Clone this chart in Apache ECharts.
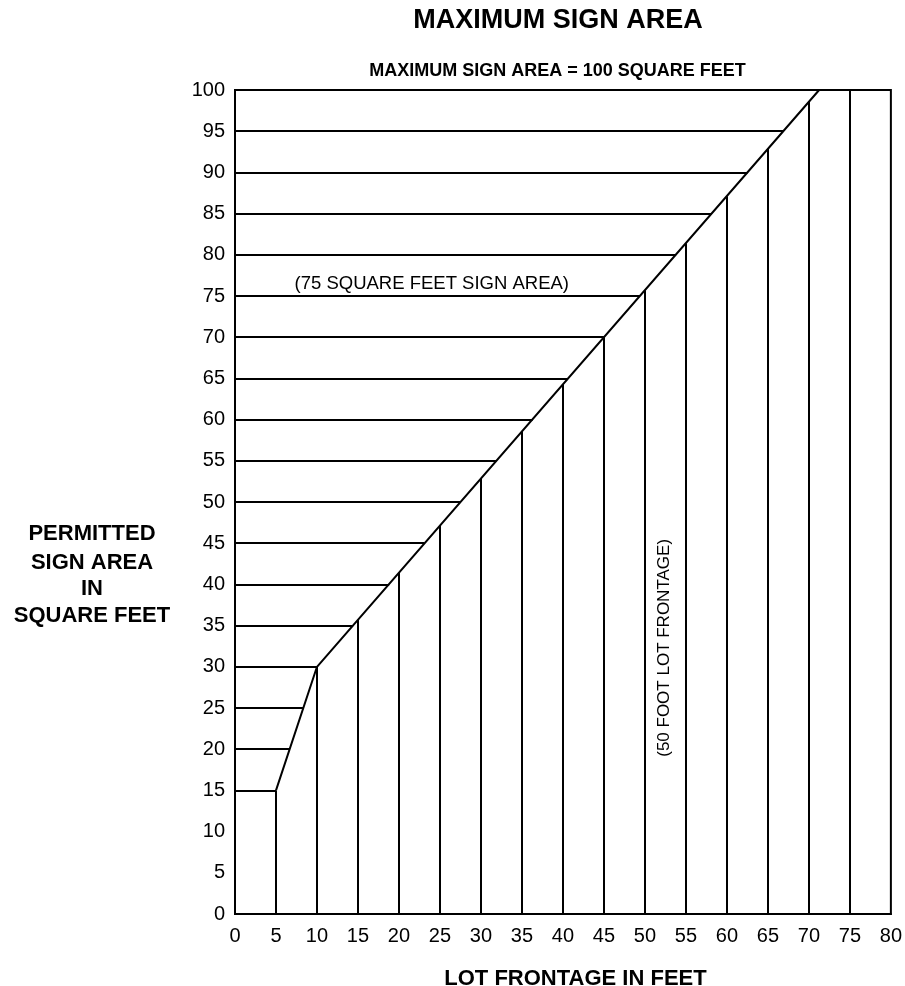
<!DOCTYPE html>
<html>
<head>
<meta charset="utf-8">
<script src="https://cdn.jsdelivr.net/npm/echarts@6/dist/echarts.min.js"></script>
<style>
html,body{margin:0;padding:0;background:#fff;}
#chart{width:905px;height:986px;}
</style>
</head>
<body>
<div id="chart"></div>
<script>
// Lot frontage (x) grid positions and the area where each vertical line meets the boundary
const frontage = [5, 10, 15, 20, 25, 30, 35, 40, 45, 50, 55, 60, 65, 70, 75];
const verticalTop = [15, 30, 35.7, 41.4, 47.1, 52.9, 58.6, 64.3, 70, 75.7, 81.4, 87.1, 92.9, 98.6, 100];
// Sign area (y) grid levels and the frontage where each horizontal line meets the boundary
const areaLevels = [15, 20, 25, 30, 35, 40, 45, 50, 55, 60, 65, 70, 75, 80, 85, 90, 95];
const horizontalEnd = [5, 6.7, 8.3, 10, 14.4, 18.8, 23.1, 27.5, 31.9, 36.3, 40.6, 45, 49.4, 53.8, 58.1, 62.5, 66.9];
// Boundary (permitted sign area) line
const boundaryX = [5, 10, 71.25];
const boundaryY = [15, 30, 100];
// Axis tick settings
const xTicks = { min: 0, max: 80, interval: 5 };
const yTicks = { min: 0, max: 100, interval: 5 };

const FONT = "'Liberation Sans', Arial, Helvetica, sans-serif";

const verticalLines = frontage.map((x, i) => ({ coords: [[x, 0], [x, verticalTop[i]]] }));
const horizontalLines = areaLevels.map((y, i) => ({ coords: [[0, y], [horizontalEnd[i], y]] }));
const boundary = boundaryX.map((x, i) => [x, boundaryY[i]]);

const chart = echarts.init(document.getElementById('chart'), null, { renderer: 'canvas' });
chart.setOption({
  backgroundColor: '#ffffff',
  animation: false,
  grid: { left: 235, right: 11, top: 90, bottom: 72, show: true, borderColor: '#000', borderWidth: 2, backgroundColor: 'transparent' },
  xAxis: {
    type: 'value', min: xTicks.min, max: xTicks.max, interval: xTicks.interval,
    axisLine: { show: true, lineStyle: { color: '#000', width: 2 } },
    axisTick: { show: false },
    splitLine: { show: false },
    axisLabel: { color: '#000', fontSize: 20, fontFamily: FONT, margin: 12 }
  },
  yAxis: {
    type: 'value', min: yTicks.min, max: yTicks.max, interval: yTicks.interval,
    axisLine: { show: true, lineStyle: { color: '#000', width: 2 } },
    axisTick: { show: false },
    splitLine: { show: false },
    axisLabel: { color: '#000', fontSize: 20, fontFamily: FONT, margin: 10 }
  },
  graphic: [
    { type: 'text', x: 558, y: 21, style: { text: 'MAXIMUM SIGN AREA', font: 'bold 27px ' + FONT, fill: '#000', align: 'center', verticalAlign: 'middle' } },
    { type: 'text', x: 557.5, y: 71, style: { text: 'MAXIMUM SIGN AREA = 100 SQUARE FEET', font: 'bold 18px ' + FONT, fill: '#000', align: 'center', verticalAlign: 'middle' } },
    { type: 'text', x: 92, y: 534, style: { text: 'PERMITTED', font: 'bold 22px ' + FONT, fill: '#000', align: 'center', verticalAlign: 'middle' } },
    { type: 'text', x: 92, y: 562.5, style: { text: 'SIGN AREA', font: 'bold 22px ' + FONT, fill: '#000', align: 'center', verticalAlign: 'middle' } },
    { type: 'text', x: 92, y: 589, style: { text: 'IN', font: 'bold 22px ' + FONT, fill: '#000', align: 'center', verticalAlign: 'middle' } },
    { type: 'text', x: 92, y: 615.5, style: { text: 'SQUARE FEET', font: 'bold 22px ' + FONT, fill: '#000', align: 'center', verticalAlign: 'middle' } },
    { type: 'text', x: 575.5, y: 979, style: { text: 'LOT FRONTAGE IN FEET', font: 'bold 22px ' + FONT, fill: '#000', align: 'center', verticalAlign: 'middle' } }
  ],
  series: [
    {
      type: 'lines', coordinateSystem: 'cartesian2d', polyline: false, silent: true,
      lineStyle: { color: '#000', width: 2, opacity: 1 },
      data: verticalLines
    },
    {
      type: 'lines', coordinateSystem: 'cartesian2d', polyline: false, silent: true,
      lineStyle: { color: '#000', width: 2, opacity: 1 },
      data: horizontalLines
    },
    {
      type: 'line', data: boundary, showSymbol: false, silent: true,
      lineStyle: { color: '#000', width: 2 }
    },
    {
      type: 'scatter', symbolSize: 0, silent: true,
      itemStyle: { opacity: 1, color: '#000' },
      data: [[24, 75]],
      label: { show: true, position: 'top', distance: 3, formatter: '(75 SQUARE FEET SIGN AREA)', color: '#000', opacity: 1, fontSize: 18.5, fontFamily: FONT }
    },
    {
      type: 'scatter', symbolSize: 0, silent: true,
      itemStyle: { opacity: 1, color: '#000' },
      data: [[52.4, 32.3]],
      label: { show: true, position: 'inside', rotate: 90, formatter: '(50 FOOT LOT FRONTAGE)', color: '#000', opacity: 1, fontSize: 17, fontFamily: FONT }
    }
  ]
});
</script>
</body>
</html>
